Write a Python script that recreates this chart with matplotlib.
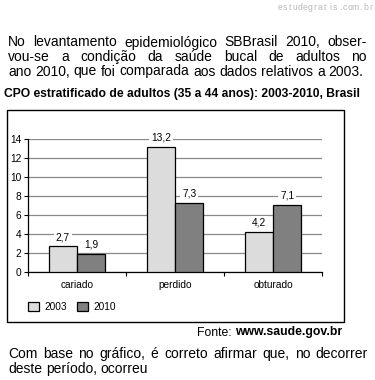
import numpy as np
import matplotlib
matplotlib.use('Agg')
import matplotlib.pyplot as plt
from matplotlib.patches import Rectangle

# Dados do gráfico
categorias = ['cariado', 'perdido', 'obturado']
valores_2003 = [2.7, 13.2, 4.2]
valores_2010 = [1.9, 7.3, 7.1]
anos = ['2003', '2010']
yticks = [0, 2, 4, 6, 8, 10, 12, 14]

texto_topo = ['No levantamento epidemiológico SBBrasil 2010, obser-',
              'vou-se a condição da saúde bucal de adultos no',
              'ano 2010, que foi comparada aos dados relativos a 2003.']
texto_baixo = ['Com base no gráfico, é correto afirmar que, no decorrer',
               'deste período, ocorreu']
titulo = 'CPO estratificado de adultos (35 a 44 anos): 2003-2010, Brasil'
marca = 'estudegratis.com.br'

W, H = 375, 380
plt.rcParams['font.family'] = ['Liberation Sans', 'DejaVu Sans']

fig = plt.figure(figsize=(W / 100, H / 100), dpi=100)
renderer = fig.canvas.get_renderer()


def fx(x):
    return x / W


def fy(y):
    return 1 - y / H


# Escreve uma linha (justificada ou não) a partir de x0, linha de base em y (pixels)
def linha_justificada(linha, y, x0, x1, size, justificar=True):
    palavras = linha.split(' ')
    textos = [fig.text(0, fy(y), p, fontsize=size, va='baseline', ha='left') for p in palavras]
    larguras = [t.get_window_extent(renderer).width for t in textos]
    if justificar and len(palavras) > 1:
        gap = (x1 - x0 - sum(larguras)) / (len(palavras) - 1)
    else:
        gap = size * 100 / 72 * 0.278  # largura do espaço em Arial
    x = x0
    for t, w in zip(textos, larguras):
        t.set_x(fx(x))
        x += w + gap


# Marca d'água, letras espaçadas
passo = 5.05
for i, c in enumerate(marca):
    fig.text(fx(373 - passo * (len(marca) - 1 - i) - passo / 2), fy(10.5), c, fontsize=6.2,
             color='#b8b8b8', ha='center', va='baseline')

# Parágrafo superior
for i, linha in enumerate(texto_topo):
    linha_justificada(linha, 46.5 + 14.5 * i, 8, 367, 10.0, justificar=(i < 2))

# Título do gráfico
fig.text(fx(4), fy(96.5), titulo, fontsize=8.75, fontweight='bold', ha='left', va='baseline')

# Moldura do gráfico
fig.patches.append(Rectangle((fx(7), fy(322)), fx(344) - fx(7), fy(110) - fy(322),
                             transform=fig.transFigure, fill=False, edgecolor='black',
                             linewidth=1.0))

# Eixos
ax = fig.add_axes([fx(28), fy(271.7), fx(322) - fx(28), fy(139.3) - fy(271.7)])
x = np.arange(len(categorias))
largura = 0.29
b1 = ax.bar(x - largura / 2, valores_2003, largura, color='#dcdcdc', edgecolor='black',
            linewidth=0.9, label=anos[0], zorder=3)
b2 = ax.bar(x + largura / 2, valores_2010, largura, color='#808080', edgecolor='black',
            linewidth=0.9, label=anos[1], zorder=3)

for barras, vals in ((b1, valores_2003), (b2, valores_2010)):
    for b, v in zip(barras, vals):
        ax.annotate(('%.1f' % v).replace('.', ','), (b.get_x() + b.get_width() / 2, v),
                    xytext=(0, 6.5), textcoords='offset points', ha='center', va='center',
                    fontsize=7.3, zorder=4,
                    bbox=dict(boxstyle='square,pad=0.2', fc='white', ec='none'))

ax.set_xlim(-0.5, 2.5)
ax.set_ylim(0, 14)
ax.set_yticks(yticks)
ax.set_yticklabels([str(t) for t in yticks], fontsize=7.3)
ax.set_xticks(x)
ax.set_xticklabels(categorias, fontsize=7.3)
ax.set_xticks([-0.5, 0.5, 1.5, 2.5], minor=True)
ax.tick_params(axis='x', which='major', length=0, pad=6)
ax.tick_params(axis='x', which='minor', length=3, width=0.8, direction='out')
ax.tick_params(axis='y', length=3, width=0.8, pad=2)
ax.yaxis.grid(True, color='#888888', linewidth=0.9, zorder=0)
ax.set_axisbelow(True)
for s in ('top', 'right'):
    ax.spines[s].set_visible(False)
ax.spines['left'].set_linewidth(0.9)
ax.spines['bottom'].set_linewidth(0.9)

# Legenda
ax.legend(loc='upper left', bbox_to_anchor=(fx(28), fy(301.5)), bbox_transform=fig.transFigure,
          ncol=2, frameon=False, fontsize=7.3, handlelength=1.1, handleheight=1.1,
          handletextpad=0.5, columnspacing=1.0, borderpad=0, borderaxespad=0)

# Fonte
t_url = fig.text(fx(342), fy(335.5), 'www.saude.gov.br', fontsize=8.8, fontweight='bold',
                 ha='right', va='baseline')
w_url = t_url.get_window_extent(renderer).width
fig.text(fx(342 - w_url), fy(335.5), 'Fonte: ', fontsize=8.8, ha='right', va='baseline')

# Parágrafo inferior
for i, linha in enumerate(texto_baixo):
    linha_justificada(linha, 358 + 15 * i, 8, 368, 10.0, justificar=(i == 0))

fig.savefig('out.png', dpi=100)
